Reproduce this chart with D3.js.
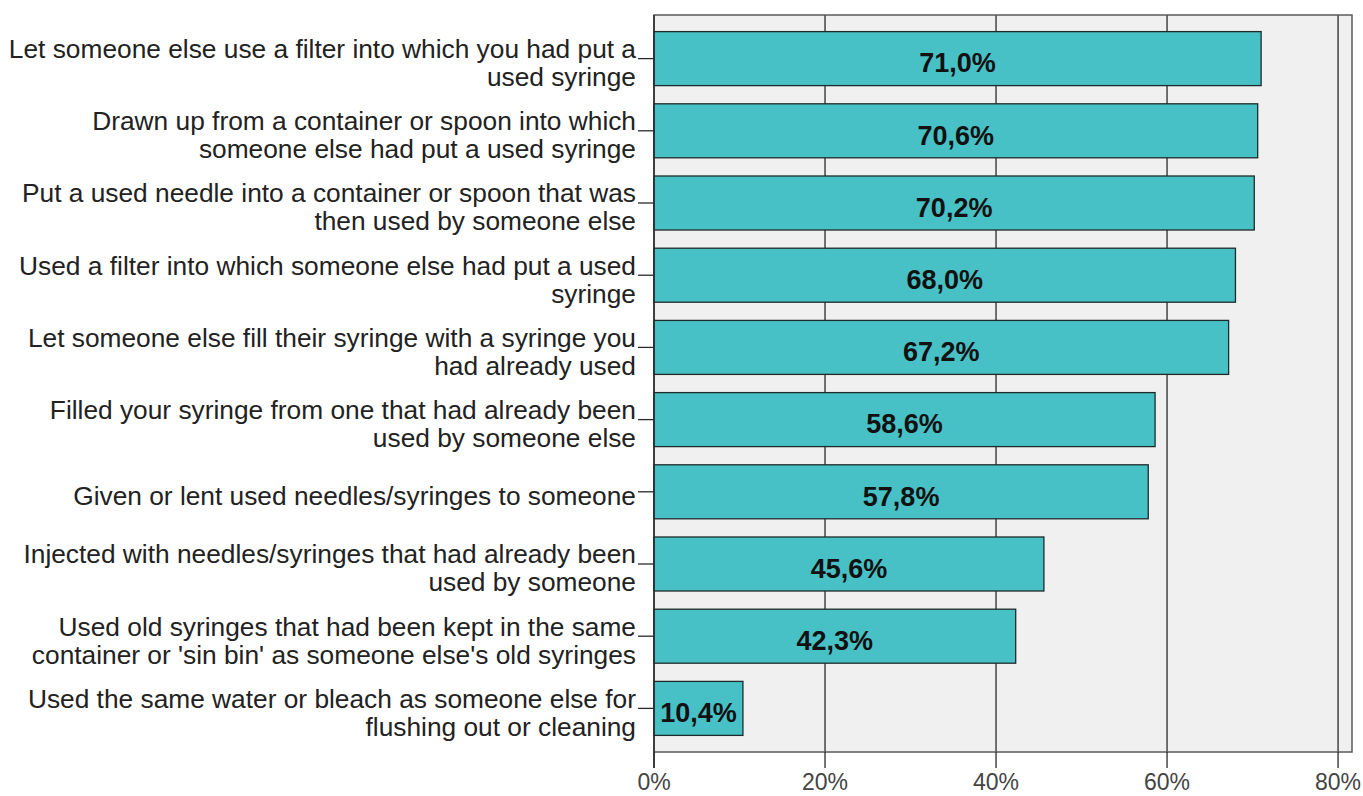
<!DOCTYPE html>
<html>
<head>
<meta charset="utf-8">
<script src="https://cdn.jsdelivr.net/npm/d3@7"></script>
<style>
  body { margin: 0; background: #fff; }
  svg { display: block; }
</style>
</head>
<body>
<svg id="chart" width="1363" height="796"></svg>
<script>
// Behaviours (two-line labels) and share of respondents reporting each
const categories = [
  ["Let someone else use a filter into which you had put a", "used syringe"],
  ["Drawn up from a container or spoon into which", "someone else had put a used syringe"],
  ["Put a used needle into a container or spoon that was", "then used by someone else"],
  ["Used a filter into which someone else had put a used", "syringe"],
  ["Let someone else fill their syringe with a syringe you", "had already used"],
  ["Filled your syringe from one that had already been", "used by someone else"],
  ["Given or lent used needles/syringes to someone"],
  ["Injected with needles/syringes that had already been", "used by someone"],
  ["Used old syringes that had been kept in the same", "container or 'sin bin' as someone else's old syringes"],
  ["Used the same water or bleach as someone else for", "flushing out or cleaning"]
];
const values = [71.0, 70.6, 70.2, 68.0, 67.2, 58.6, 57.8, 45.6, 42.3, 10.4];
const xTicks = [0, 20, 40, 60, 80];

const svg = d3.select("#chart");
const plot = { left: 654, right: 1352, top: 15, bottom: 752 };
const font = "'Liberation Sans', Arial, sans-serif";

const x = d3.scaleLinear().domain([0, 81.63]).range([plot.left, plot.right]);
const y = d3.scaleBand().domain(d3.range(categories.length))
  .range([plot.top, plot.bottom]).paddingInner(0.252).paddingOuter(0.23);

// plot background
svg.append("rect")
  .attr("x", plot.left).attr("y", plot.top)
  .attr("width", plot.right - plot.left).attr("height", plot.bottom - plot.top)
  .attr("fill", "#f0f0f0");

// vertical grid lines
svg.append("g").selectAll("line").data(xTicks.slice(1)).join("line")
  .attr("x1", d => x(d)).attr("x2", d => x(d))
  .attr("y1", plot.top).attr("y2", plot.bottom)
  .attr("stroke", "#2a2a2a").attr("stroke-width", 1.3);

// frame
svg.append("rect")
  .attr("x", plot.left).attr("y", plot.top)
  .attr("width", plot.right - plot.left).attr("height", plot.bottom - plot.top)
  .attr("fill", "none").attr("stroke", "#5a5a5a").attr("stroke-width", 1.5);

// bars
svg.append("g").selectAll("rect").data(values).join("rect")
  .attr("x", x(0))
  .attr("y", (d, i) => y(i))
  .attr("width", d => x(d) - x(0))
  .attr("height", y.bandwidth())
  .attr("fill", "#47c1c5")
  .attr("stroke", "#1f2a2a").attr("stroke-width", 1.3);

// value labels
svg.append("g").selectAll("text").data(values).join("text")
  .attr("x", d => (x(0) + x(d)) / 2)
  .attr("y", (d, i) => y(i) + y.bandwidth() / 2 + 4)
  .attr("dy", "0.36em")
  .attr("text-anchor", "middle")
  .attr("font-family", font).attr("font-weight", "bold").attr("font-size", 27)
  .attr("fill", "#111")
  .text(d => d.toFixed(1).replace(".", ",") + "%");

// category axis
const yAxis = svg.append("g");
yAxis.append("line")
  .attr("x1", plot.left).attr("x2", plot.left)
  .attr("y1", plot.top).attr("y2", plot.bottom + 16)
  .attr("stroke", "#2a2a2a").attr("stroke-width", 1.5);
yAxis.selectAll("line.tick").data(categories).join("line")
  .attr("class", "tick")
  .attr("x1", plot.left - 16).attr("x2", plot.left)
  .attr("y1", (d, i) => y(i) + y.bandwidth() / 2)
  .attr("y2", (d, i) => y(i) + y.bandwidth() / 2)
  .attr("stroke", "#2a2a2a").attr("stroke-width", 1.3);
const lineH = 28;
yAxis.selectAll("text").data(categories).join("text")
  .attr("text-anchor", "end")
  .attr("font-family", font).attr("font-size", 26.3).attr("fill", "#222")
  .each(function(lines, i) {
    const cy = y(i) + y.bandwidth() / 2 + 4;
    const t = d3.select(this);
    lines.forEach((s, k) => {
      t.append("tspan")
        .attr("x", plot.left - 18)
        .attr("y", cy + (k - (lines.length - 1) / 2) * lineH)
        .attr("dy", "0.36em")
        .text(s);
    });
  });

// value axis
const xAxis = svg.append("g");
xAxis.selectAll("line").data(xTicks).join("line")
  .attr("x1", d => x(d)).attr("x2", d => x(d))
  .attr("y1", plot.bottom).attr("y2", plot.bottom + 16)
  .attr("stroke", "#2a2a2a").attr("stroke-width", 1.3);
xAxis.selectAll("text").data(xTicks).join("text")
  .attr("x", d => x(d)).attr("y", 782)
  .attr("dy", "0.36em")
  .attr("text-anchor", "middle")
  .attr("font-family", font).attr("font-size", 23).attr("fill", "#444")
  .text(d => d + "%");
</script>
</body>
</html>
